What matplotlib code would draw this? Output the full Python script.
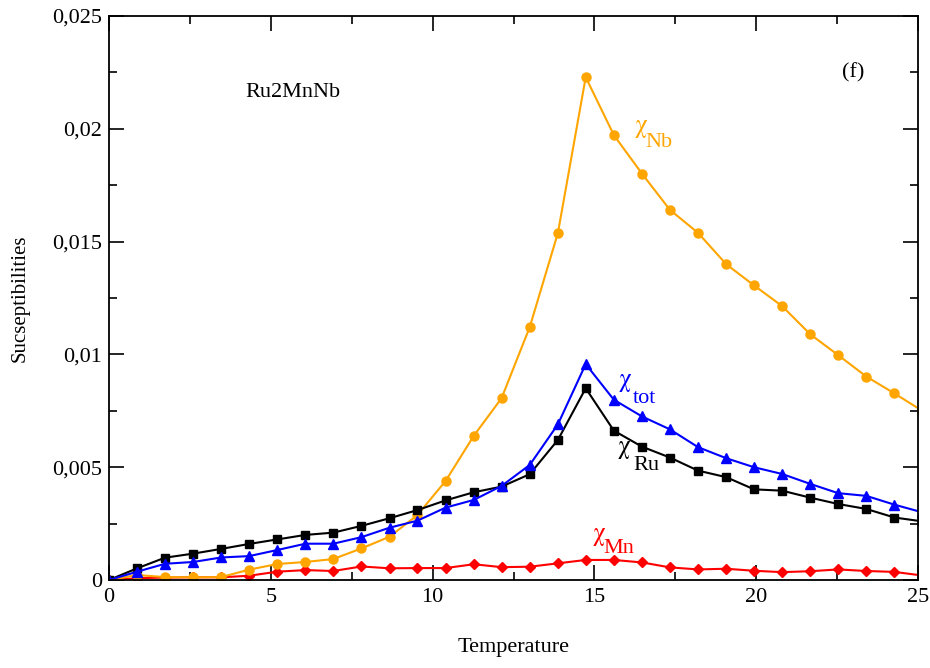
import matplotlib
matplotlib.use("Agg")
import matplotlib.pyplot as plt

plt.rcParams['font.family'] = ['Liberation Serif', 'DejaVu Serif']
plt.rcParams['mathtext.fontset'] = 'stix'

# temperatura (eje x) y susceptibilidades
temp = [0, 0.87, 1.73, 2.6, 3.47, 4.33, 5.2, 6.07, 6.93, 7.8,
        8.67, 9.53, 10.4, 11.27, 12.13, 13.0, 13.87, 14.73, 15.6, 16.47,
        17.33, 18.2, 19.07, 19.93, 20.8, 21.67, 22.53, 23.4, 24.27, 25.13]

chi_ru = [0, 0.00052, 0.00099, 0.00117, 0.00138, 0.0016, 0.0018, 0.0020, 0.0021, 0.0024,
          0.00274, 0.0031, 0.00353, 0.00389, 0.00414, 0.00469, 0.00621, 0.0085, 0.00662, 0.00591,
          0.00543, 0.00485, 0.00456, 0.00402, 0.00396, 0.00365, 0.00337, 0.00315, 0.00277, 0.0026]

chi_tot = [0, 0.00037, 0.00072, 0.0008, 0.001, 0.00106, 0.00133, 0.00161, 0.00161, 0.0019,
           0.00232, 0.00263, 0.00321, 0.00355, 0.00417, 0.0051, 0.0069, 0.00957, 0.00799, 0.00725,
           0.00668, 0.00589, 0.0054, 0.005, 0.0047, 0.00426, 0.00385, 0.00373, 0.00334, 0.0030]

chi_nb = [0, 0.00022, 0.00013, 0.00012, 0.00013, 0.00046, 0.00071, 0.0008, 0.00093, 0.0014,
          0.00192, 0.00288, 0.00439, 0.00639, 0.00806, 0.01121, 0.01538, 0.02229, 0.01972, 0.01801,
          0.01641, 0.01539, 0.0140, 0.01306, 0.01214, 0.01089, 0.00997, 0.00902, 0.00827, 0.0075]

chi_mn = [0, 0.00008, 0.00011, 0.00012, 0.00012, 0.00019, 0.00037, 0.00044, 0.0004, 0.0006,
          0.00052, 0.00053, 0.00053, 0.0007, 0.00057, 0.00059, 0.00074, 0.00089, 0.00089, 0.00078,
          0.00056, 0.00047, 0.0005, 0.00041, 0.00035, 0.00039, 0.00047, 0.0004, 0.00036, 0.0002]

yticks = [0, 0.005, 0.01, 0.015, 0.02, 0.025]
ytick_labels = ['0', '0,005', '0,01', '0,015', '0,02', '0,025']
xticks = [0, 5, 10, 15, 20, 25]

fig = plt.figure(figsize=(9.3, 6.68), dpi=100)
ax = fig.add_axes([0.1172, 0.1317, 0.87, 0.8443])

ax.plot(temp, chi_mn, color='#ff0000', lw=1.5, marker='D', ms=5.5)
ax.plot(temp, chi_nb, color='#ffa500', lw=1.5, marker='o', ms=6.5)
ax.plot(temp, chi_ru, color='black', lw=1.5, marker='s', ms=5.5)
ax.plot(temp, chi_tot, color='#0000ff', lw=1.5, marker='^', ms=6.5)

ax.set_xlim(0, 25)
ax.set_ylim(0, 0.025)
ax.set_xticks(xticks)
ax.set_xticks([2.5, 7.5, 12.5, 17.5, 22.5], minor=True)
ax.set_yticks(yticks)
ax.set_yticklabels(ytick_labels)
ax.set_yticks([0.0025, 0.0075, 0.0125, 0.0175, 0.0225], minor=True)

ax.tick_params(which='both', direction='in', top=True, right=True, labelsize=16, width=1.2)
ax.tick_params(which='major', length=11)
ax.tick_params(which='minor', length=5.5)
ax.tick_params(axis='x', pad=6)
ax.tick_params(axis='y', pad=5)
for s in ax.spines.values():
    s.set_linewidth(1.3)

ax.set_xlabel('Temperature', fontsize=16, labelpad=22)
ax.set_ylabel('Sucseptibilities', fontsize=15, labelpad=16)

ax.text(4.2, 0.0216, 'Ru2MnNb', fontsize=16, va='center')
ax.text(22.65, 0.0225, '(f)', fontsize=16, va='center')

# etiquetas chi con subindice
etiquetas = [('Nb', '#ffa500', 16.43, 0.0200, 16.56, 0.0192),
             ('tot', '#0000ff', 15.96, 0.00875, 16.18, 0.00786),
             ('Ru', 'black', 15.93, 0.00578, 16.21, 0.00489),
             ('Mn', '#ff0000', 15.13, 0.00192, 15.28, 0.00122)]
for sub, col, xc, yc, xs, ys in etiquetas:
    ax.text(xc, yc, r'$\mathrm{\chi}$', color=col, fontsize=18, ha='center', va='center')
    ax.text(xs, ys, sub, color=col, fontsize=16, ha='left', va='baseline')

fig.savefig('out.png', dpi=100)
